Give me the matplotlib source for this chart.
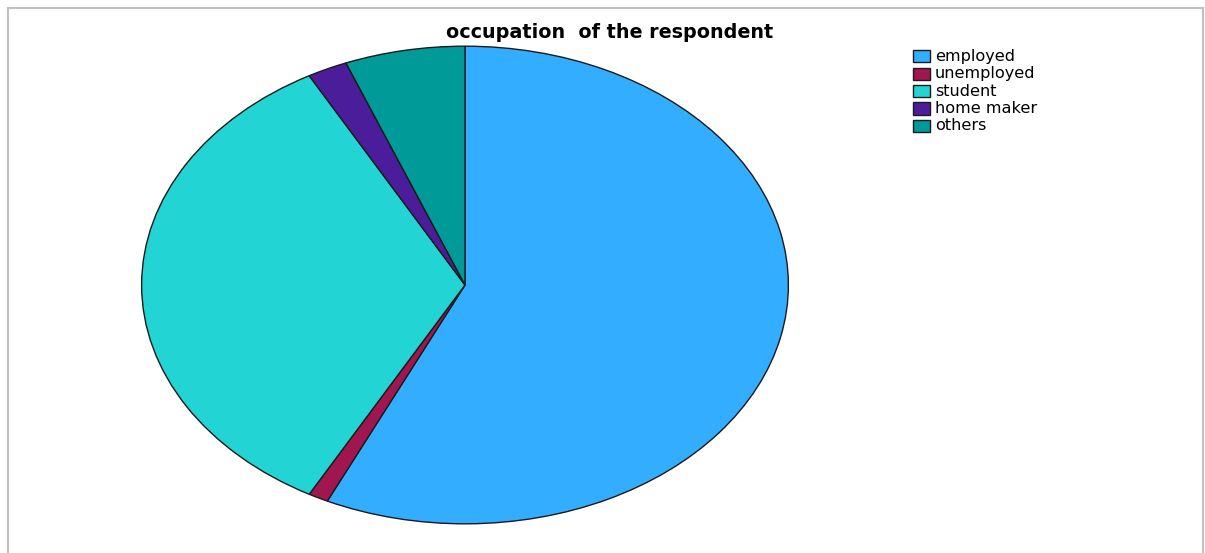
import matplotlib
matplotlib.use("Agg")
import matplotlib.pyplot as plt
from matplotlib.patches import Rectangle

categories = ["employed", "unemployed", "student", "home maker", "others"]
values = [57, 1, 34, 2, 6]
colors = ["#33adff", "#a0174f", "#22d4d4", "#4c1d9a", "#009b99"]
title = "occupation  of the respondent"

W, H = 1205, 553
fig = plt.figure(figsize=(W / 100, H / 100), dpi=100)

# border
fig.add_artist(Rectangle((8 / W, -0.01), (1203 - 8) / W, (H - 8) / H + 0.01,
                         transform=fig.transFigure, fill=False,
                         edgecolor="#c0c0c0", linewidth=1.5))

ax = fig.add_axes([140 / W, (H - 525) / H, 650 / W, 480 / H])
ax.pie(values, colors=colors, startangle=90, counterclock=False,
       wedgeprops=dict(edgecolor="#1a1a1a", linewidth=1.0))
ax.set_aspect("auto")
ax.set_xlim(-1.005, 1.005)
ax.set_ylim(-1.005, 1.005)
ax.axis("off")

fig.text(610 / W, 1 - 33 / H, title, ha="center", va="center",
         fontsize=13.8, fontweight="bold", family="DejaVu Sans")

# legend
y0 = 56
dy = 17.5
for i, (cat, col) in enumerate(zip(categories, colors)):
    yc = y0 + i * dy
    fig.add_artist(Rectangle((913 / W, 1 - (yc + 6) / H), 17 / W, 12 / H,
                             transform=fig.transFigure, facecolor=col,
                             edgecolor="#1a1a1a", linewidth=1.0))
    fig.text(935 / W, 1 - yc / H, cat, ha="left", va="center",
             fontsize=11.6, family="DejaVu Sans")

fig.savefig("out.png", dpi=100)
